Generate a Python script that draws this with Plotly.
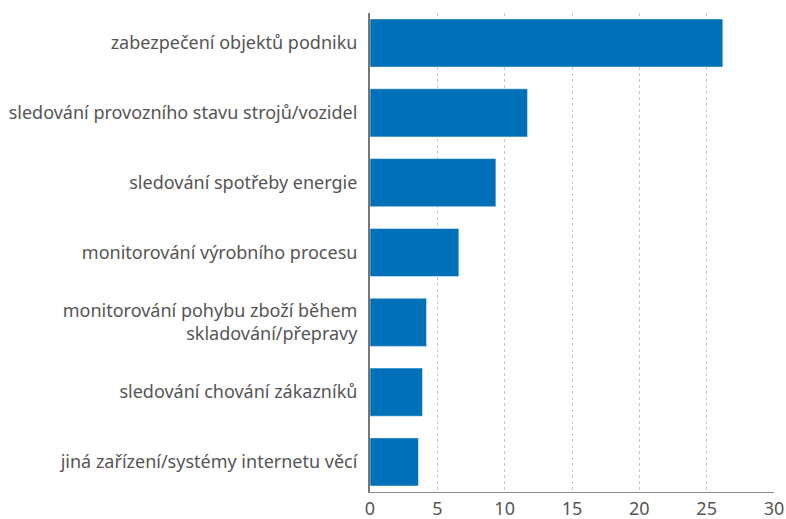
import plotly.graph_objects as go

categories = [
    "zabezpečení objektů podniku",
    "sledování provozního stavu strojů/vozidel",
    "sledování spotřeby energie",
    "monitorování výrobního procesu",
    "monitorování pohybu zboží během<br>skladování/přepravy",
    "sledování chování zákazníků",
    "jiná zařízení/systémy internetu věcí",
]
values = [26.2, 11.7, 9.35, 6.6, 4.2, 3.9, 3.6]
x_ticks = [0, 5, 10, 15, 20, 25, 30]

BAR_COLOR = "#0070b8"
TEXT_COLOR = "#555555"

PLOT_CONFIG = {"displayModeBar": False, "displaylogo": False}

fig = go.Figure(
    go.Bar(
        x=values,
        y=categories,
        orientation="h",
        marker_color=BAR_COLOR,
        width=0.69,
        hovertemplate="%{y}: %{x}<extra></extra>",
    )
)

fig.update_layout(
    width=786,
    height=519,
    template="plotly_white",
    plot_bgcolor="white",
    paper_bgcolor="white",
    showlegend=False,
    margin=dict(l=370, r=12, t=13, b=27),
    font=dict(family="Noto Sans", size=18, color=TEXT_COLOR),
    xaxis=dict(
        range=[0, 30],
        tickvals=x_ticks,
        automargin=False,
        showgrid=True,
        gridcolor="#c8c8c8",
        griddash="3px,3px",
        gridwidth=1,
        showline=True,
        linecolor="#888888",
        linewidth=1,
        zeroline=False,
        ticks="",
        tickfont=dict(size=18, color=TEXT_COLOR),
    ),
    yaxis=dict(
        categoryorder="array",
        categoryarray=categories,
        range=[6.43, -0.43],
        automargin=False,
        showgrid=False,
        showline=True,
        linecolor="#777777",
        linewidth=2,
        zeroline=False,
        ticks="outside",
        ticklen=7,
        tickcolor="white",
    ),
)

# drop the default body margin so the figure fills the window exactly
fig.write_html(
    "out.html",
    config=PLOT_CONFIG,
    post_script="document.body.style.margin='0'; document.body.style.overflow='hidden';",
)
